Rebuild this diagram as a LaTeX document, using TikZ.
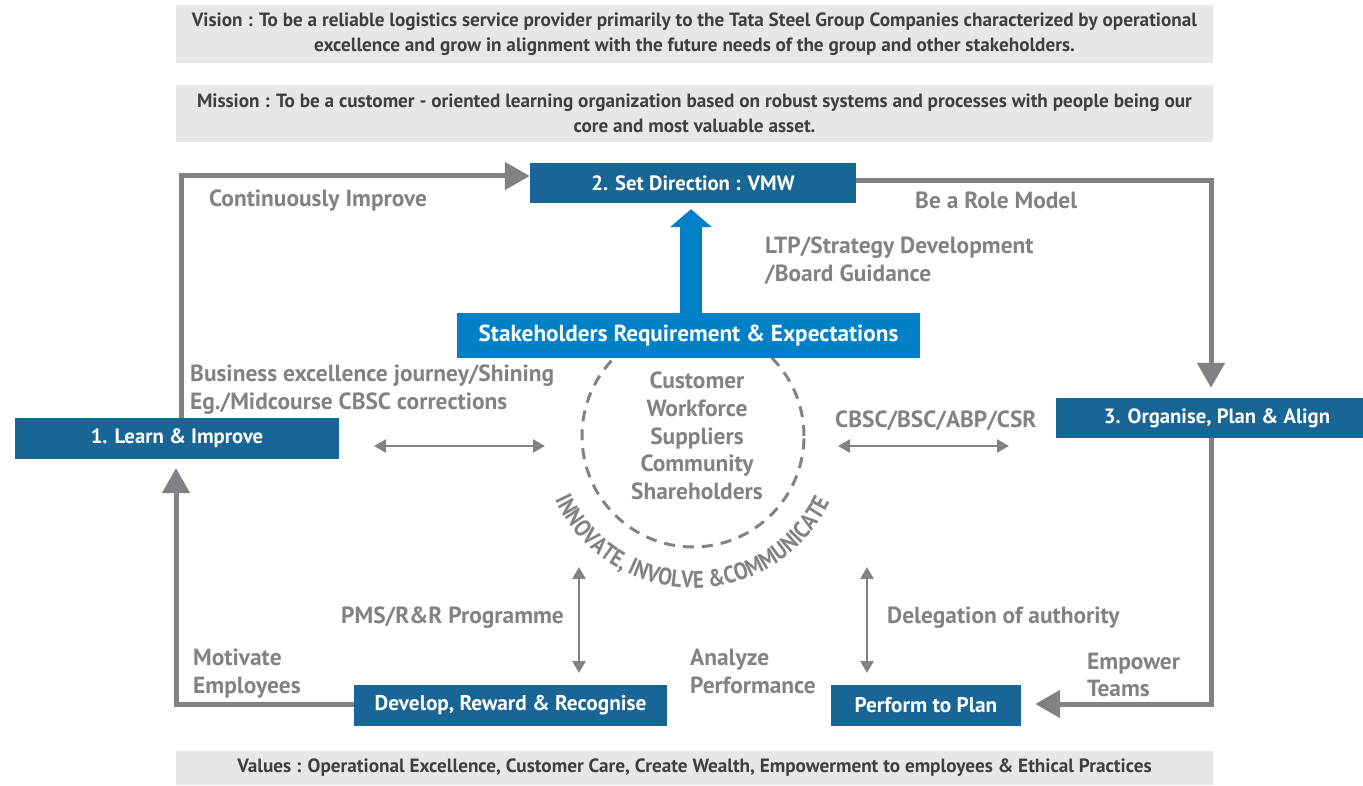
\documentclass[tikz,border=0pt]{standalone}
\usepackage{fontspec}
\setmainfont{PT Sans}
\newfontfamily\arcfont[FakeStretch=0.86]{PT Sans}
\usetikzlibrary{arrows.meta,decorations.text,calc}
\definecolor{boxblue}{HTML}{176696}
\definecolor{brightblue}{HTML}{0080C6}
\definecolor{linegray}{HTML}{808285}
\definecolor{bannergray}{HTML}{E6E7E8}
\definecolor{bannertext}{HTML}{3F3F40}
\begin{document}
\begin{tikzpicture}[x=1pt,y=1pt,
  bluebox/.style={fill=boxblue, text=white, font=\bfseries\fontsize{20.7}{24}\selectfont, inner sep=0pt, minimum height=41pt},
  banner/.style={fill=bannergray, text=bannertext, font=\bfseries\fontsize{19.2}{24.5}\selectfont, inner sep=0pt, align=center, minimum width=1037pt},
  lbl/.style={text=linegray, font=\bfseries\fontsize{23.4}{27}\selectfont, inner sep=0pt, anchor=base west},
  loopline/.style={draw=linegray, line width=5pt, -{Triangle[length=25pt,width=27pt]}},
  dbl/.style={draw=linegray, line width=2.5pt, {Triangle[length=12pt,width=13pt]}-{Triangle[length=12pt,width=13pt]}}
]
\useasboundingbox (0,0) rectangle (1363,785);

% banners
\node[banner, minimum height=58pt] (vision) at (694.5,751) {Vision : To be a reliable logistics service provider primarily to the Tata Steel Group Companies characterized by operational\\excellence and grow in alignment with the future needs of the group and other stakeholders.};
\node[banner, minimum height=57pt] (mission) at (694.5,671.5) {Mission : To be a customer - oriented learning organization based on robust systems and processes with people being our\\core and most valuable asset.};
\node[banner, minimum height=34pt] (values) at (694.5,17) {Values : Operational Excellence, Customer Care, Create Wealth, Empowerment to employees \& Ethical Practices};

% dashed circle
\coordinate (ctr) at (693,349);
\draw[linegray, line width=3pt, dash pattern=on 11pt off 8pt] (ctr) circle[radius=111pt];
\begin{scope}
\arcfont\bfseries\fontsize{24}{24}\selectfont
\path[decorate, decoration={text along path, text align=center, text color=linegray,
  text={INNOVATE, INVOLVE {\&}COMMUNICATE}}]
  ($(ctr)+(200:152pt)$) arc[start angle=200, end angle=339, radius=152pt];
\end{scope}

% boxes
\node[bluebox, minimum width=326pt, minimum height=40pt] (setdir) at (693,602) {2. Set Direction : VMW};
\node[fill=brightblue, text=white, font=\bfseries\fontsize{23.2}{26}\selectfont, inner sep=0pt, minimum width=463pt, minimum height=45pt] (stake) at (688.5,449.5) {Stakeholders Requirement \& Expectations};
\node[bluebox, minimum width=324pt] (learn) at (177,346.5) {1. Learn \& Improve};
\node[bluebox, minimum width=322pt, minimum height=40pt] (organise) at (1217,367) {3. Organise, Plan \& Align};
\node[bluebox, minimum width=313pt, font=\bfseries\fontsize{21.3}{24}\selectfont] (develop) at (510.5,79.5) {Develop, Reward \& Recognise};
\node[bluebox, minimum width=190pt, font=\bfseries\fontsize{21.3}{24}\selectfont] (perform) at (926,79.5) {Perform to Plan};

% center list
\node[text=linegray, font=\bfseries\fontsize{23.4}{27.6}\selectfont, align=center, anchor=north, inner sep=0pt] (stakelist) at (697,413) {Customer\\Workforce\\Suppliers\\Community\\Shareholders};

% main loop
\draw[loopline] ([xshift=4pt]learn.north) |- ([yshift=7pt]setdir.west);
\draw[loopline] ([yshift=2pt]setdir.east) -| ([xshift=-6pt,yshift=10pt]organise.north);
\draw[loopline] ([xshift=-6pt]organise.south) |- ([xshift=14pt,yshift=1.5pt]perform.east);
\draw[loopline] ([yshift=1.5pt]develop.west) -| ([xshift=-1pt,yshift=-9pt]learn.south);

% blue arrow
\draw[brightblue, line width=22pt, -{Triangle[length=18pt,width=41pt]}] ([xshift=2.5pt]stake.north) -- ([xshift=-2pt,yshift=-6pt]setdir.south);

% double arrows
\coordinate (l1) at (374,339); \coordinate (l2) at (545,339);
\coordinate (r1) at (838,339); \coordinate (r2) at (1009,339);
\coordinate (p1) at (579,218); \coordinate (p2) at (579,112);
\coordinate (d1) at (867,218); \coordinate (d2) at (867,112);
\draw[dbl] (l1) -- (l2);
\draw[dbl] (r1) -- (r2);
\draw[dbl] (p1) -- (p2);
\draw[dbl] (d1) -- (d2);

% labels
\node[lbl] (cont) at (209,578) {Continuously Improve};
\node[lbl] (role) at (915,576) {Be a Role Model};
\node[lbl] (ltp1) at (765,531) {LTP/Strategy Development};
\node[lbl] (ltp2) at (765,503) {/Board Guidance};
\node[lbl] (bus1) at (190,403) {Business excellence journey/Shining};
\node[lbl] (bus2) at (190,375) {Eg./Midcourse CBSC corrections};
\node[lbl] (cbsc) at (835,357) {CBSC/BSC/ABP/CSR};
\node[lbl] (pms) at (341,161) {PMS/R\&R Programme};
\node[lbl] (deleg) at (887,161) {Delegation of authority};
\node[lbl] (mot1) at (193,120) {Motivate};
\node[lbl] (mot2) at (193,92) {Employees};
\node[lbl] (ana1) at (690,120) {Analyze};
\node[lbl] (ana2) at (690,92) {Performance};
\node[lbl] (emp1) at (1087,116) {Empower};
\node[lbl] (emp2) at (1087,89) {Teams};
\end{tikzpicture}
\end{document}
